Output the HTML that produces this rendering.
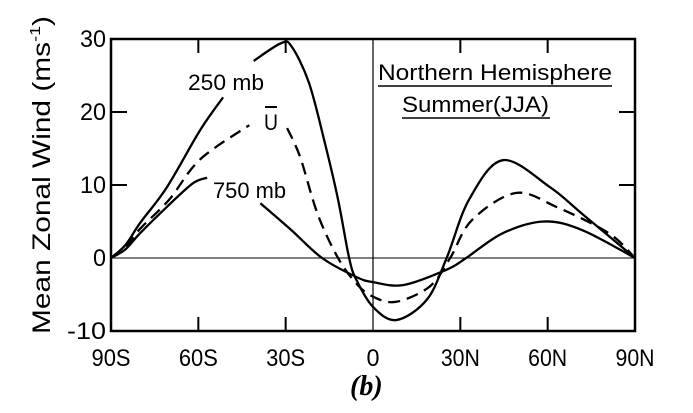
<!DOCTYPE html>
<html><head><meta charset="utf-8"><style>
html,body{margin:0;padding:0;background:#fff;}
svg{display:block;}
text{font-family:"Liberation Sans",sans-serif;fill:#000;}
</style></head><body>
<svg id="chart" width="693" height="413" viewBox="0 0 693 413" xmlns="http://www.w3.org/2000/svg">
<g id="axes"></g>
<g id="series"></g>
<g>
<text x="188" y="90" font-size="22" textLength="76" lengthAdjust="spacingAndGlyphs">250 mb</text>
<text x="264" y="130" font-size="22" textLength="14" lengthAdjust="spacingAndGlyphs">U</text>
<line x1="265" y1="107" x2="277" y2="107" stroke="#000" stroke-width="2"/>
<text x="213" y="198" font-size="22" textLength="73" lengthAdjust="spacingAndGlyphs">750 mb</text>
<text x="378" y="80" font-size="22" textLength="234" lengthAdjust="spacingAndGlyphs">Northern Hemisphere</text>
<line x1="378" y1="86" x2="612" y2="86" stroke="#000" stroke-width="1.5"/>
<text x="402" y="112" font-size="22" textLength="147" lengthAdjust="spacingAndGlyphs">Summer(JJA)</text>
<line x1="402" y1="118" x2="550" y2="118" stroke="#000" stroke-width="1.5"/>
<text transform="translate(50,175) rotate(-90)" text-anchor="middle" font-size="25" textLength="318" lengthAdjust="spacingAndGlyphs">Mean  Zonal  Wind  (ms<tspan font-size="15" dy="-10">-1</tspan><tspan dy="10">)</tspan></text>
<text x="350" y="395" font-size="28" font-style="italic" font-weight="bold" style="font-family:'Liberation Serif',serif">(b)</text>
</g>
</svg>
<script>
// data
const xTickLats = [-90, -60, -30, 0, 30, 60, 90];
const xTickLabels = ['90S', '60S', '30S', '0', '30N', '60N', '90N'];
const yTickVals = [30, 20, 10, 0, -10];
const yTickLabels = ['30', '20', '10', '0', '-10'];
const lat250a = [-90, -85, -80, -70.8, -59.4, -51.5];
const val250a = [0, 1.8, 4.8, 9.7, 17.5, 22];
const lat250b = [-41, -31.7, -28, -22, -16.5, -12, -8.2, -5.7, 0, 8, 18.5, 25.3, 33, 44.6, 60.8, 72, 90];
const val250b = [27, 29.4, 29, 24, 15.7, 8, 0, -3, -6.7, -8.5, -5.7, 0, 8, 13.4, 9.7, 6, 0];
const latUa = [-90, -85, -80, -70, -59.4, -42.5];
const valUa = [0, 1.5, 4, 8, 13.5, 18.2];
const latUb = [-29.5, -25, -19, -12, -5.7, 0, 8, 19.5, 26.5, 34, 49, 63, 81, 90];
const valUb = [17.8, 13.8, 6, 0, -3.5, -5.3, -6, -3.9, 0, 5.2, 8.9, 7, 3.4, 0];
const lat750a = [-90, -85, -80, -70.8, -62, -57];
const val750a = [0, 1.2, 3.4, 7, 10.2, 11];
const lat750b = [-38.7, -28, -17.5, -5.7, 0, 10.5, 25.3, 32, 44.6, 58.8, 72, 90];
const val750b = [7.5, 3.8, 0, -2.6, -3.3, -3.7, -1.6, 0, 3.4, 5, 3.8, 0];

const NS = 'http://www.w3.org/2000/svg';
const X0 = 111, X1 = 635, Y0 = 258, PER = 7.3;
function xs(lat) { return X0 + (lat + 90) / 180 * (X1 - X0); }
function ys(v) { return Y0 - v * PER; }
function mk(tag, attrs, parent) {
  const e = document.createElementNS(NS, tag);
  for (const k in attrs) e.setAttribute(k, attrs[k]);
  parent.appendChild(e); return e;
}
const axes = document.getElementById('axes');
const yTop = ys(30), yBot = ys(-10);
const frame = mk('rect', {x: X0, y: yTop, width: X1 - X0, height: yBot - yTop, fill: 'none', stroke: '#000', 'stroke-width': 2.5}, axes);


const zl = mk('line', {x1: X0, x2: X1, y1: ys(0), y2: ys(0), stroke: '#000', 'stroke-width': 1}, axes);


const eq = mk('line', {x1: xs(0), x2: xs(0), y1: yTop, y2: yBot, stroke: '#000', 'stroke-width': 1.2}, axes);


xTickLats.forEach((lat, i) => {
  const x = xs(lat);
  if (lat !== -90 && lat !== 90 && lat !== 0) {
    const t1 = mk('line', {x1: x, x2: x, y1: yBot, y2: yBot - 14, stroke: '#000', 'stroke-width': 2}, axes);
    
    
    const t2 = mk('line', {x1: x, x2: x, y1: yTop, y2: yTop + 14, stroke: '#000', 'stroke-width': 2}, axes);
    
    
  }
  const lbl = xTickLabels[i];
  const tx = mk('text', {x: x, y: yBot + 35, 'text-anchor': 'middle', 'font-size': 24, textLength: lbl.length * 13, lengthAdjust: 'spacingAndGlyphs'}, axes);
  tx.textContent = lbl;
  
  
});
yTickVals.forEach((v, i) => {
  const y = ys(v);
  if (v === 20 || v === 10) {
    const t1 = mk('line', {x1: X0, x2: X0 + 16, y1: y, y2: y, stroke: '#000', 'stroke-width': 2}, axes);
    
    
    const t2 = mk('line', {x1: X1, x2: X1 - 16, y1: y, y2: y, stroke: '#000', 'stroke-width': 2}, axes);
    
    
  }
  const lbl = yTickLabels[i];
  const tx = mk('text', {x: X0 - 5, y: y + 8, 'text-anchor': 'end', 'font-size': 24, textLength: lbl.length * 13, lengthAdjust: 'spacingAndGlyphs'}, axes);
  tx.textContent = lbl;
  
  
});
function pathFor(lats, vals) {
  const p = lats.map((l, i) => [xs(l), ys(vals[i])]);
  let d = 'M' + p[0][0] + ',' + p[0][1];
  for (let i = 0; i < p.length - 1; i++) {
    const p0 = p[Math.max(0, i - 1)], p1 = p[i], p2 = p[i + 1], p3 = p[Math.min(p.length - 1, i + 2)];
    const c1 = [p1[0] + (p2[0] - p0[0]) / 6, p1[1] + (p2[1] - p0[1]) / 6];
    const c2 = [p2[0] - (p3[0] - p1[0]) / 6, p2[1] - (p3[1] - p1[1]) / 6];
    d += 'C' + c1.join(',') + ' ' + c2.join(',') + ' ' + p2.join(',');
  }
  return d;
}
const series = document.getElementById('series');
function draw(lats, vals, name, dash) {
  const attrs = {d: pathFor(lats, vals), fill: 'none', stroke: '#000', 'stroke-width': 2.3};
  if (dash) attrs['stroke-dasharray'] = '12,7';
  const e = mk('path', attrs, series);
  
  
}
draw(lat250a, val250a, 'line-250mb', false);
draw(lat250b, val250b, 'line-250mb', false);
draw(latUa, valUa, 'line-u-bar', true);
draw(latUb, valUb, 'line-u-bar', true);
draw(lat750a, val750a, 'line-750mb', false);
draw(lat750b, val750b, 'line-750mb', false);
</script>
</body></html>
